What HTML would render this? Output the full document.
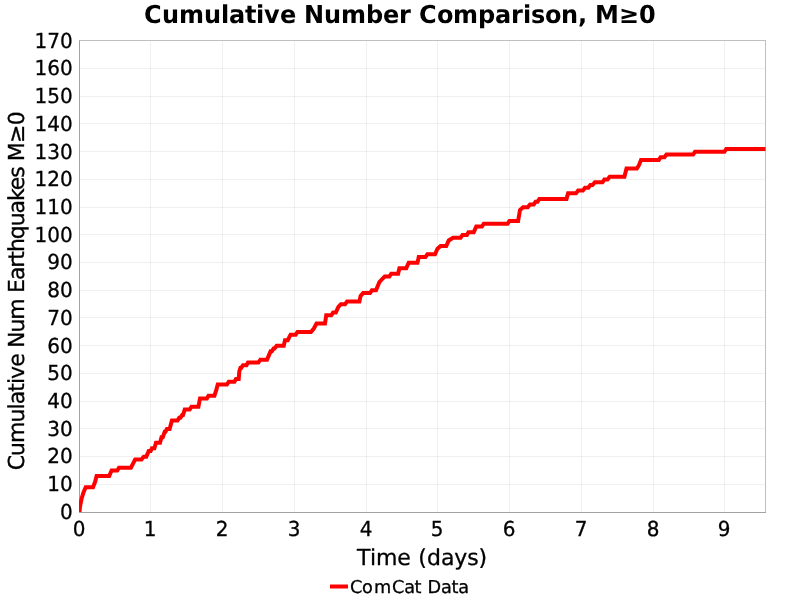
<!DOCTYPE html>
<html><head><meta charset="utf-8"><title>Cumulative Number Comparison</title>
<style>
html,body{margin:0;padding:0;background:#fff;}
body{width:800px;height:600px;overflow:hidden;font-family:"DejaVu Sans","Liberation Sans",sans-serif;}
svg{display:block}
text{font-family:"DejaVu Sans","Liberation Sans",sans-serif;fill:#000;text-rendering:geometricPrecision}
</style></head><body>
<svg width="800" height="600" viewBox="0 0 800 600">
<rect width="800" height="600" fill="#fff"/>
<path d="M150.5 40.5V512.5M222.5 40.5V512.5M294.5 40.5V512.5M366.5 40.5V512.5M437.5 40.5V512.5M509.5 40.5V512.5M581.5 40.5V512.5M653.5 40.5V512.5M724.5 40.5V512.5" stroke="#000" stroke-opacity="0.057" stroke-width="1" fill="none" shape-rendering="crispEdges"/>
<path d="M79.5 484.5H765.5M79.5 456.5H765.5M79.5 428.5H765.5M79.5 401.5H765.5M79.5 373.5H765.5M79.5 345.5H765.5M79.5 317.5H765.5M79.5 290.5H765.5M79.5 262.5H765.5M79.5 234.5H765.5M79.5 207.5H765.5M79.5 179.5H765.5M79.5 151.5H765.5M79.5 123.5H765.5M79.5 96.5H765.5M79.5 68.5H765.5" stroke="#000" stroke-opacity="0.057" stroke-width="1" fill="none" shape-rendering="crispEdges"/>
<rect x="79.5" y="40.5" width="686.0" height="472.0" fill="none" stroke="#bfbfbf" stroke-width="1"/>
<path d="M79.5 40.5V512.5" fill="none" stroke="#a2a2a2" stroke-width="1"/>
<clipPath id="c"><rect x="79" y="40" width="687" height="472"/></clipPath>
<path d="M79.5 512.08 L80 506.54 L81.5 499.05 L83.4 492.68 L85.7 487.14 L93 487.14 L95.2 481.59 L96.6 476.05 L109.2 476.05 L111.6 470.51 L117.3 470.51 L119 467.73 L130.9 467.73 L135.2 459.42 L141.4 459.42 L143.75 456.65 L146.25 456.65 L148.75 451.1 L150.6 451.1 L151.9 448.33 L154.4 448.33 L156 442.79 L160 442.79 L161.5 437.25 L162.75 437.25 L164.75 431.7 L165.5 431.7 L166.9 428.93 L169.6 428.93 L171.9 420.62 L177.5 420.62 L179.2 417.85 L180.4 417.85 L182.2 415.07 L183 415.07 L184.75 409.53 L189.7 409.53 L191.5 406.76 L198.4 406.76 L200 398.44 L206.9 398.44 L208.5 395.67 L214.4 395.67 L216.25 390.13 L217.75 384.59 L226.9 384.59 L228.75 381.81 L234.4 381.81 L236 379.04 L238.7 379.04 L239.3 371.28 L240.4 367.96 L241.2 367.96 L243 365.19 L246.5 365.19 L248 362.41 L258.4 362.41 L260.4 359.64 L267 359.64 L270.6 351.33 L271.8 351.33 L273.6 348.56 L274.5 348.56 L276.7 345.78 L283.75 345.78 L285 340.24 L287.75 340.24 L290.6 334.7 L295.6 334.7 L297.5 331.93 L311 331.93 L313.5 329.15 L316.5 323.61 L325 323.61 L326.25 315.3 L331.25 315.3 L333.1 312.52 L335.8 312.52 L338.4 306.98 L340.9 304.21 L345.1 304.21 L347.1 301.44 L359.4 301.44 L360.6 295.9 L363.1 293.12 L370 293.12 L371.9 290.35 L376 290.35 L379.4 282.04 L381.9 279.27 L384.75 276.49 L389.4 276.49 L391.25 273.72 L398.1 273.72 L399.4 268.18 L406.25 268.18 L408.75 262.64 L417.5 262.64 L418.75 257.09 L425.4 257.09 L427.4 254.32 L435 254.32 L437.5 248.78 L440.6 246.01 L446.25 246.01 L448.75 240.46 L453.1 237.69 L460.6 237.69 L462.5 234.92 L466.9 234.92 L468.5 232.15 L473.75 232.15 L476.25 226.61 L481.9 226.61 L483.75 223.83 L507.5 223.83 L509.4 221.06 L518.1 221.06 L520 209.98 L523.1 207.2 L527.75 207.2 L530 204.43 L533.75 204.43 L535.6 201.66 L537.5 201.66 L539.4 198.89 L566.5 198.89 L568.1 193.35 L576 193.35 L578.1 190.57 L582.9 190.57 L585 187.8 L588.3 187.8 L590.4 185.03 L592.5 185.03 L594.9 182.26 L602.5 182.26 L604.4 179.49 L607.5 179.49 L609.75 176.72 L624.4 176.72 L626.5 168.4 L636.9 168.4 L638.75 165.63 L641 160.09 L658.75 160.09 L660.6 157.32 L664.4 157.32 L666.5 154.54 L693.1 154.54 L695 151.77 L724.4 151.77 L726.25 149 L765.5 149" stroke="#f00" stroke-width="4" fill="none" stroke-linejoin="miter" stroke-linecap="butt" clip-path="url(#c)"/>
<path d="M79.0 512.5H766.0" fill="none" stroke="#a2a2a2" stroke-width="1"/>
<text transform="translate(0,23) scale(1,1.029)" font-size="24" font-weight="bold" x="144 162 179 204 221 229 245 256 264 280 296 304 324 341 366 383 399 411 419 437 453 478 495 511 523 531 545 561 578 587 595 619 639">Cumulative Number Comparison, M≥0</text>
<g font-size="20" text-anchor="end" stroke="#000" stroke-width="0.3"><text transform="translate(72.7,519) scale(1,1.029)">0</text><text transform="translate(72.7,491) scale(1,1.029)">10</text><text transform="translate(72.7,463) scale(1,1.029)">20</text><text transform="translate(72.7,436) scale(1,1.029)">30</text><text transform="translate(72.7,408) scale(1,1.029)">40</text><text transform="translate(72.7,380) scale(1,1.029)">50</text><text transform="translate(72.7,353) scale(1,1.029)">60</text><text transform="translate(72.7,325) scale(1,1.029)">70</text><text transform="translate(72.7,297) scale(1,1.029)">80</text><text transform="translate(72.7,269) scale(1,1.029)">90</text><text transform="translate(72.7,242) scale(1,1.029)">100</text><text transform="translate(72.7,214) scale(1,1.029)">110</text><text transform="translate(72.7,186) scale(1,1.029)">120</text><text transform="translate(72.7,159) scale(1,1.029)">130</text><text transform="translate(72.7,131) scale(1,1.029)">140</text><text transform="translate(72.7,103) scale(1,1.029)">150</text><text transform="translate(72.7,75) scale(1,1.029)">160</text><text transform="translate(72.7,48) scale(1,1.029)">170</text></g>
<g font-size="20" text-anchor="middle" stroke="#000" stroke-width="0.3"><text transform="translate(79.2,536) scale(1,1.029)">0</text><text transform="translate(150.2,536) scale(1,1.029)">1</text><text transform="translate(222.2,536) scale(1,1.029)">2</text><text transform="translate(294.2,536) scale(1,1.029)">3</text><text transform="translate(366.2,536) scale(1,1.029)">4</text><text transform="translate(437.2,536) scale(1,1.029)">5</text><text transform="translate(509.2,536) scale(1,1.029)">6</text><text transform="translate(581.2,536) scale(1,1.029)">7</text><text transform="translate(653.2,536) scale(1,1.029)">8</text><text transform="translate(724.2,536) scale(1,1.029)">9</text></g>
<text y="565" x="357.1 370 376.1 397.3 411 418.3 427 441 454.2 467.2 478.5" font-size="22" stroke="#000" stroke-width="0.3">Time (days)</text>
<text transform="translate(24,0) rotate(-90)" font-size="22" letter-spacing="-1.07" stroke="#000" stroke-width="0.3"><tspan x="-470.3" letter-spacing="-0.95">Cumulative </tspan><tspan x="-347.9">Num </tspan><tspan x="-292.9">Earthquakes </tspan><tspan x="-161.2" letter-spacing="-0.8">M≥0</tspan></text>
<path d="M330 586.5H348" stroke="#f00" stroke-width="4" fill="none"/>
<text x="350 362 374.1 392 404.3 414.4 421.5 427.6 440.9 451.5 458.2" y="592.8" font-size="17.7" stroke="#000" stroke-width="0.3">ComCat Data</text>
</svg>
</body></html>
